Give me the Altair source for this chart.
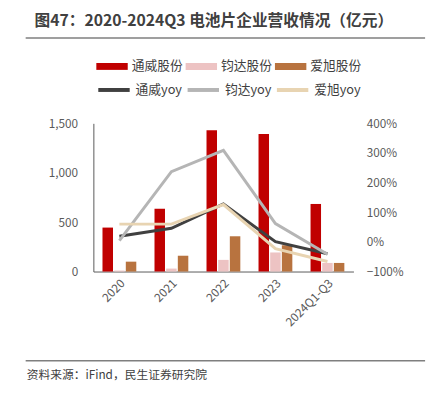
import altair as alt
import pandas as pd

categories = ["2020", "2021", "2022", "2023", "2024Q1-Q3"]
bar_series = ["通威股份", "钧达股份", "爱旭股份"]
line_series = ["通威yoy", "钧达yoy", "爱旭yoy"]
tongwei_rev = [445, 636, 1430, 1392, 684]
junda_rev = [10, 30, 118, 193, 87]
aixu_rev = [100, 160, 357, 266, 87]
tongwei_yoy = [0.19, 0.46, 1.28, 0.01, -0.40]
junda_yoy = [0.04, 2.37, 3.09, 0.62, -0.42]
aixu_yoy = [0.60, 0.60, 1.26, -0.23, -0.66]
bar_colors = ["#C00000", "#EDC3C3", "#B8733F"]
line_colors = ["#404040", "#B5B5B5", "#E8D4B2"]
title_text = "图47：2020-2024Q3 电池片企业营收情况（亿元）"
source_text = "资料来源：iFind，民生证券研究院"

FONT = "Noto Sans CJK SC"

bar_rows = []
for s, vals in zip(bar_series, [tongwei_rev, junda_rev, aixu_rev]):
    for c, v in zip(categories, vals):
        bar_rows.append({"cat": c, "series": s, "value": v})
bar_df = pd.DataFrame(bar_rows)

line_rows = []
for s, vals in zip(line_series, [tongwei_yoy, junda_yoy, aixu_yoy]):
    for i, (c, v) in enumerate(zip(categories, vals)):
        line_rows.append({"cat": c, "series": s, "yoy": v, "idx": i})
line_df = pd.DataFrame(line_rows)

x_enc = alt.X(
    "cat:N", sort=categories,
    scale=alt.Scale(paddingInner=0.35, paddingOuter=0.175),
    axis=alt.Axis(title=None, labelAngle=-45, ticks=False, domainColor="#595959",
                  labelColor="#595959", labelFontSize=12, labelPadding=6),
)

bars = alt.Chart(bar_df).mark_bar().encode(
    x=x_enc,
    xOffset=alt.XOffset("series:N", sort=bar_series,
                        scale=alt.Scale(domain=bar_series, paddingInner=0.1, paddingOuter=0)),
    y=alt.Y("value:Q", scale=alt.Scale(domain=[0, 1500], nice=False),
            axis=alt.Axis(title=None, values=[0, 500, 1000, 1500], format=",.0f", grid=False,
                          ticks=False, domainColor="#595959", labelColor="#595959",
                          labelFontSize=12, labelPadding=16)),
    fill=alt.Fill("series:N", sort=bar_series,
                  scale=alt.Scale(domain=bar_series, range=bar_colors),
                  legend=alt.Legend(title=None, orient="none", legendX=3, legendY=-74,
                                    direction="horizontal", columns=3,
                                    symbolType="M-1,-0.22H1V0.22H-1Z", symbolSize=1024,
                                    symbolStrokeWidth=0, labelFontSize=13, labelColor="#404040",
                                    columnPadding=2, labelOffset=4, padding=0)),
)

lines = alt.Chart(line_df).mark_line(strokeWidth=3).encode(
    x=alt.X("cat:N", sort=categories),
    y=alt.Y("yoy:Q", scale=alt.Scale(domain=[-1, 4], nice=False),
            axis=alt.Axis(orient="right", title=None, values=[-1, 0, 1, 2, 3, 4], format=".0%",
                          grid=False, ticks=False, domain=False, labelColor="#595959",
                          labelFontSize=12, labelPadding=13)),
    stroke=alt.Stroke("series:N", sort=line_series,
                      scale=alt.Scale(domain=line_series, range=line_colors),
                      legend=alt.Legend(title=None, orient="none", legendX=3, legendY=-52,
                                        direction="horizontal", columns=3,
                                        symbolType="stroke", symbolSize=1024,
                                        symbolStrokeWidth=4, labelFontSize=13, labelColor="#404040",
                                        columnPadding=-3, labelOffset=4, padding=0)),
    order=alt.Order("idx:Q"),
)

one = pd.DataFrame({"t": [title_text], "s": [source_text]})

title = alt.Chart(one).mark_text(align="left", baseline="middle", fontSize=16,
                                 fontWeight="bold", color="#404040", font=FONT).encode(
    text="t:N", x=alt.value(-60), y=alt.value(-104))
top_rule = alt.Chart(one).mark_rule(color="#7F7F7F", strokeWidth=1.5).encode(
    x=alt.value(-69), x2=alt.value(338), y=alt.value(-87))
bottom_rule = alt.Chart(one).mark_rule(color="#7F7F7F", strokeWidth=1.5).encode(
    x=alt.value(-69), x2=alt.value(338), y=alt.value(242))
source = alt.Chart(one).mark_text(align="left", baseline="middle", fontSize=12,
                                  color="#404040", font=FONT).encode(
    text="s:N", x=alt.value(-68), y=alt.value(256))

chart = alt.layer(bars, lines, title, top_rule, bottom_rule, source).resolve_scale(
    y="independent"
).properties(
    width=265, height=151,
    autosize=alt.AutoSizeParams(type="none"),
    padding={"left": 87, "top": 114, "right": 78, "bottom": 108},
).configure(font=FONT).configure_view(stroke=None)

chart.save("out.html", embed_options={"renderer": "svg", "actions": False})
